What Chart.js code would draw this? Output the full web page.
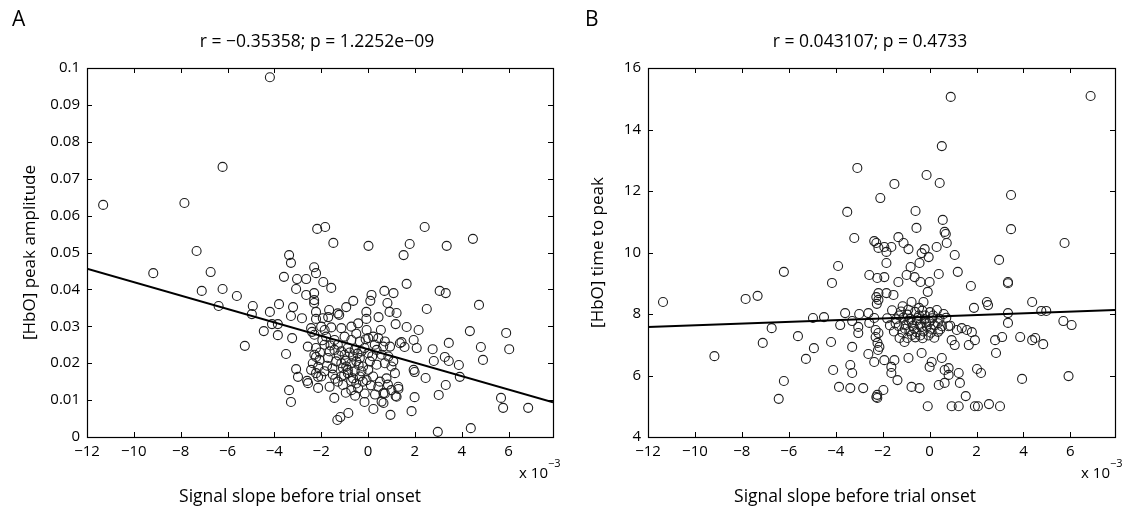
<!DOCTYPE html>
<html>
<head>
<meta charset="utf-8">
<script src="https://cdn.jsdelivr.net/npm/chart.js@4.4.1/dist/chart.umd.min.js"></script>
<style>
  body { margin: 0; background: #fff; }
  .panel { position: absolute; top: 0; height: 515px; }
  #panelA { left: 0; width: 560px; }
  #panelB { left: 560px; width: 567px; }
</style>
</head>
<body>
<div class="panel" id="panelA"><canvas id="chartA"></canvas></div>
<div class="panel" id="panelB"><canvas id="chartB"></canvas></div>
<script>
// slope values are in units of 1e-3 (axis shows "x 10^-3")
const xTicks = [-12, -10, -8, -6, -4, -2, 0, 2, 4, 6];
const yTicksA = [0, 0.01, 0.02, 0.03, 0.04, 0.05, 0.06, 0.07, 0.08, 0.09, 0.1];
const yTicksB = [4, 6, 8, 10, 12, 14, 16];

// regression lines, end points
const fitA = [[-12, 0.0456], [7.9, 0.0094]];
const fitB = [[-12, 7.58], [7.9, 8.13]];

// A: slope vs [HbO] peak amplitude
const pointsA = [
  [-4.19, 0.0975], [-11.31, 0.0629], [-7.84, 0.0634], [-6.21, 0.0732], [-2.17, 0.0564],
  [-1.83, 0.0569], [-1.48, 0.0526], [0.02, 0.0518], [1.78, 0.0523], [2.42, 0.0569],
  [3.36, 0.0518], [4.48, 0.0537], [1.52, 0.0493], [-7.32, 0.0504], [-9.17, 0.0444],
  [-6.72, 0.0447], [-7.10, 0.0396], [-6.21, 0.0401], [-6.38, 0.0355], [-5.60, 0.0382],
  [-4.92, 0.0355], [-4.96, 0.0333], [-5.26, 0.0247], [-4.45, 0.0287], [-4.19, 0.0339],
  [-3.80, 0.0360], [-4.10, 0.0306], [-3.85, 0.0306], [-3.85, 0.0276], [-3.50, 0.0225],
  [-3.37, 0.0127], [-3.29, 0.0095], [-3.07, 0.0184], [-2.99, 0.0163], [-2.60, 0.0152],
  [-2.56, 0.0146], [-3.24, 0.0268], [-3.29, 0.0328], [-3.20, 0.0352], [-2.82, 0.0322],
  [-3.59, 0.0434], [-3.37, 0.0493], [-3.29, 0.0472], [-3.03, 0.0428], [-3.07, 0.0401],
  [-2.64, 0.0428], [-2.30, 0.0460], [-2.22, 0.0444], [-2.30, 0.0390], [-2.30, 0.0363],
  [-2.22, 0.0339], [-2.22, 0.0320], [-2.39, 0.0285], [-2.22, 0.0217], [-2.13, 0.0190],
  [-2.13, 0.0163], [-2.13, 0.0133], [-1.91, 0.0420], [-1.57, 0.0404], [-2.64, 0.0385],
  [-2.30, 0.0371], [-0.63, 0.0369], [-0.93, 0.0352], [0.15, 0.0385], [0.10, 0.0369],
  [0.70, 0.0396], [1.09, 0.0390], [0.83, 0.0363], [0.92, 0.0339], [1.22, 0.0336],
  [1.65, 0.0415], [3.06, 0.0396], [3.32, 0.0390], [2.51, 0.0347], [4.74, 0.0358],
  [-1.66, 0.0344], [-1.70, 0.0325], [-1.23, 0.0331], [-0.07, 0.0339], [-0.07, 0.0320],
  [0.45, 0.0325], [1.18, 0.0306], [1.65, 0.0298], [2.16, 0.0290], [4.35, 0.0287],
  [5.90, 0.0282], [6.03, 0.0238], [4.82, 0.0244], [4.91, 0.0209], [3.45, 0.0255],
  [2.76, 0.0238], [2.81, 0.0206], [3.28, 0.0217], [3.45, 0.0206], [3.88, 0.0195],
  [3.92, 0.0163], [2.46, 0.0160], [1.95, 0.0182], [1.99, 0.0176], [1.43, 0.0257],
  [1.56, 0.0244], [1.95, 0.0263], [2.08, 0.0241], [3.32, 0.0141], [3.02, 0.0114],
  [1.99, 0.0108], [1.86, 0.0070], [0.96, 0.0060], [0.23, 0.0076], [0.66, 0.0092],
  [0.66, 0.0119], [1.18, 0.0111], [1.30, 0.0130], [-0.15, 0.0095], [-1.44, 0.0106],
  [-1.31, 0.0046], [-1.18, 0.0054], [-0.84, 0.0065], [2.98, 0.0014], [4.39, 0.0024],
  [5.68, 0.0106], [5.77, 0.0079], [6.84, 0.0079],
  // dense middle
  [-2.43, 0.0295], [-2.00, 0.0299], [-1.57, 0.0297], [-1.14, 0.0295], [-0.71, 0.0299],
  [-0.42, 0.0308], [-0.06, 0.0290], [0.22, 0.0272], [0.44, 0.0268], [0.72, 0.0259],
  [0.94, 0.0245], [-2.29, 0.0277], [-1.79, 0.0272], [-1.43, 0.0263], [-1.00, 0.0272],
  [-0.71, 0.0263], [-0.35, 0.0259], [0.01, 0.0268], [0.29, 0.0250], [0.65, 0.0245],
  [-2.57, 0.0245], [-2.22, 0.0241], [-1.86, 0.0250], [-1.43, 0.0236], [-1.14, 0.0232],
  [-0.86, 0.0241], [-0.57, 0.0236], [-0.28, 0.0232], [0.01, 0.0227], [0.37, 0.0236],
  [0.58, 0.0223], [0.87, 0.0218], [1.08, 0.0205], [1.36, 0.0254], [-2.36, 0.0200],
  [-2.07, 0.0209], [-1.71, 0.0214], [-1.36, 0.0205], [-1.14, 0.0200], [-0.93, 0.0191],
  [-0.71, 0.0200], [-0.50, 0.0205], [-0.21, 0.0191], [0.08, 0.0205], [0.37, 0.0196],
  [0.72, 0.0200], [1.00, 0.0191], [-2.22, 0.0173], [-1.86, 0.0178], [-1.50, 0.0169],
  [-1.14, 0.0164], [-0.86, 0.0173], [-0.64, 0.0159], [-0.35, 0.0164], [-0.06, 0.0154],
  [0.22, 0.0164], [0.51, 0.0150], [0.79, 0.0159], [1.15, 0.0173], [1.29, 0.0136],
  [-1.64, 0.0136], [-1.07, 0.0141], [-0.71, 0.0127], [-0.42, 0.0132], [-0.14, 0.0118],
  [0.44, 0.0136], [0.72, 0.0118], [1.00, 0.0127], [0.58, 0.0096], [1.22, 0.0109],
  [-1.29, 0.0250], [-1.00, 0.0223], [-0.64, 0.0218], [-0.35, 0.0214], [-0.86, 0.0182],
  [-0.57, 0.0178], [-1.07, 0.0187], [-0.28, 0.0178], [-1.29, 0.0150], [-0.50, 0.0145],
  [0.01, 0.0182], [-2.00, 0.0164], [-2.43, 0.0182], [-2.29, 0.0223], [-1.64, 0.0232],
  [-1.93, 0.0322], [-1.29, 0.0335],
  [-1.95, 0.0262], [-1.60, 0.0248], [-1.25, 0.0221], [-0.95, 0.0207], [-0.78, 0.0229],
  [-0.45, 0.0226], [-0.15, 0.0241], [0.18, 0.0219], [-1.75, 0.0193], [-1.52, 0.0186],
  [-1.02, 0.0168], [-0.72, 0.0152], [-0.40, 0.0195], [-0.22, 0.0150], [0.12, 0.0140],
  [-1.40, 0.0158], [-0.55, 0.0112], [-0.95, 0.0120], [0.30, 0.0115], [-1.85, 0.0290],
  [-0.50, 0.0280], [0.55, 0.0290], [-2.05, 0.0229], [-0.10, 0.0265], [0.85, 0.0142]
];

// B: slope vs [HbO] time to peak
const pointsB = [
  [-3.08, 12.75], [-3.51, 11.32], [-3.21, 10.47], [-2.10, 11.77], [-2.36, 10.37],
  [-2.27, 10.31], [-2.18, 10.15], [-11.36, 8.39], [-7.84, 8.49], [-7.33, 8.59],
  [-6.21, 9.37], [-3.90, 9.56], [-4.16, 9.01], [-2.57, 9.27], [-2.23, 9.17],
  [-2.18, 8.68], [-2.18, 8.46], [-2.25, 8.33], [-3.60, 8.03], [-3.00, 8.00],
  [-2.61, 8.03], [-4.97, 7.87], [-4.50, 7.90], [-3.81, 7.64], [-3.30, 7.77],
  [-3.04, 7.58], [-3.04, 7.38], [-6.73, 7.54], [-5.61, 7.28], [-7.11, 7.06],
  [-4.93, 6.89], [-4.20, 7.09], [-3.30, 6.93], [-9.17, 6.63], [-5.27, 6.54],
  [-2.61, 6.70], [-2.36, 6.44], [-2.30, 7.48], [-2.30, 7.25], [-2.22, 7.06],
  [-2.20, 6.83], [-4.11, 6.18], [-3.38, 6.34], [-3.30, 6.08], [-6.21, 5.82],
  [-3.86, 5.63], [-3.38, 5.59], [-2.83, 5.59], [-2.27, 5.30], [-2.23, 5.27],
  [-6.43, 5.24], [0.90, 15.06], [6.86, 15.09], [0.52, 13.46], [-0.13, 12.52],
  [0.43, 12.26], [-1.50, 12.23], [3.47, 11.87], [-0.60, 11.35], [-0.56, 10.80],
  [0.56, 11.06], [0.64, 10.67], [0.69, 10.60], [3.47, 10.76], [5.75, 10.31],
  [0.73, 10.31], [-1.93, 10.18], [-1.63, 10.18], [-1.33, 10.50], [-1.11, 10.31],
  [-0.90, 10.11], [-0.21, 10.11], [0.30, 10.18], [-1.84, 10.02], [-0.34, 9.98],
  [-0.04, 9.85], [-0.43, 9.66], [1.07, 9.92], [-1.84, 9.66], [-0.81, 9.53],
  [2.96, 9.76], [-1.93, 9.20], [-1.33, 9.04], [-0.98, 9.27], [-0.64, 9.20],
  [-0.39, 9.04], [0.00, 9.04], [0.39, 9.30], [1.20, 9.37], [1.76, 8.91],
  [3.34, 9.04], [3.34, 9.00], [-0.08, 8.72], [-2.27, 8.55], [-1.84, 8.68],
  [-1.54, 8.62], [-0.77, 8.39], [-0.26, 8.39], [1.89, 8.20], [2.44, 8.39],
  [2.49, 8.29], [4.37, 8.39], [4.76, 8.10], [4.97, 8.10], [5.70, 7.77],
  [6.05, 7.64], [3.34, 8.03], [3.34, 7.71], [3.09, 7.25], [2.79, 7.15],
  [3.86, 7.25], [4.37, 7.15], [4.50, 7.22], [4.84, 7.02], [2.83, 6.73],
  [2.02, 6.21], [2.19, 6.08], [3.94, 5.89], [5.92, 5.98], [1.24, 6.08],
  [1.29, 5.76], [1.54, 5.33], [-0.08, 5.00], [0.94, 5.00], [1.24, 5.00],
  [1.93, 5.00], [2.06, 5.00], [2.53, 5.07], [3.00, 5.00], [-1.97, 5.53],
  [-2.23, 5.37], [-1.93, 6.50], [-1.50, 6.50], [-1.37, 5.85], [-0.77, 5.63],
  [-0.43, 5.59], [0.39, 5.69], [0.64, 5.76], [0.81, 6.02], [-1.63, 6.28],
  [-1.63, 6.08], [-0.90, 6.57], [-0.34, 6.73], [0.09, 6.44], [0.00, 6.28],
  [0.52, 6.57], [0.64, 6.18], [0.81, 6.24], [0.94, 7.15], [1.07, 6.99],
  [1.67, 6.99], [1.93, 7.15], [1.80, 7.41], [1.59, 7.48], [1.37, 7.54],
  [1.16, 7.48], [-1.28, 7.22], [-1.07, 7.09], [-2.18, 7.38], [-2.14, 6.93],
  [-2.36, 7.87], [-2.57, 7.71],
  // dense middle
  [-1.60, 8.12], [-1.22, 8.08], [-0.91, 8.14], [-0.62, 8.07], [-0.31, 8.11],
  [0.02, 8.06], [0.31, 8.13], [-1.81, 7.86], [-1.42, 7.83], [-1.12, 7.88],
  [-0.83, 7.84], [-0.52, 7.87], [-0.21, 7.82], [0.11, 7.86], [0.42, 7.84],
  [0.71, 7.88], [-1.69, 7.63], [-1.31, 7.60], [-1.02, 7.64], [-0.72, 7.61],
  [-0.41, 7.65], [-0.12, 7.59], [0.21, 7.63], [0.52, 7.60], [0.88, 7.62],
  [-1.52, 7.43], [-1.16, 7.40], [-0.86, 7.44], [-0.56, 7.41], [-0.26, 7.43],
  [0.05, 7.39], [0.36, 7.42], [-0.95, 7.22], [-0.61, 7.24], [-0.30, 7.21],
  [0.20, 7.23], [-0.75, 7.72], [-0.45, 7.95], [-0.95, 7.98], [-0.15, 7.72],
  [0.60, 8.00], [0.80, 7.60],
  [-1.45, 7.70], [-1.05, 7.52], [-0.65, 7.52], [-0.35, 7.58], [0.05, 7.52],
  [0.35, 7.70], [-0.90, 7.78], [-0.55, 7.78], [-0.20, 7.95], [0.15, 7.95],
  [-1.30, 7.95], [-0.75, 7.32], [-0.40, 7.30], [0.00, 7.75], [-1.15, 8.25],
  [-0.45, 8.20], [0.45, 7.50], [-0.05, 7.30]
];

const ink = '#1e1e1e';
const fontFam = "'Open Sans', 'Noto Sans', sans-serif";

// frame, inward ticks and all the text around the axes
const decor = {
  id: 'decor',
  afterDraw(chart, args, o) {
    const { ctx, chartArea: a, scales: { x, y } } = chart;
    ctx.save();
    ctx.strokeStyle = '#000';
    ctx.lineWidth = 1.2;
    ctx.strokeRect(Math.round(a.left) + 0.5, Math.round(a.top) + 0.5,
      Math.round(a.right - a.left), Math.round(a.bottom - a.top));
    ctx.lineWidth = 1;
    ctx.beginPath();
    x.ticks.forEach(t => {
      const px = Math.round(x.getPixelForValue(t.value)) + 0.5;
      ctx.moveTo(px, a.bottom); ctx.lineTo(px, a.bottom - 5);
      ctx.moveTo(px, a.top); ctx.lineTo(px, a.top + 5);
    });
    y.ticks.forEach(t => {
      const py = Math.round(y.getPixelForValue(t.value)) + 0.5;
      ctx.moveTo(a.left, py); ctx.lineTo(a.left + 5, py);
      ctx.moveTo(a.right, py); ctx.lineTo(a.right - 5, py);
    });
    ctx.stroke();

    ctx.fillStyle = '#000';
    ctx.textBaseline = 'middle';
    ctx.font = '21px ' + fontFam;
    ctx.textAlign = 'left';
    ctx.fillText(o.letter, o.letterX, 20);

    ctx.font = '17.5px ' + fontFam;
    ctx.textAlign = 'center';
    ctx.fillText(o.title, o.titleX, 42);
    ctx.fillText(o.xlabel, o.xlabelX, 497);

    ctx.font = '17px ' + fontFam;
    ctx.save();
    ctx.translate(o.ylabelX, (a.top + a.bottom) / 2);
    ctx.rotate(-Math.PI / 2);
    ctx.fillText(o.ylabel, 0, 0);
    ctx.restore();

    // multiplier
    ctx.textAlign = 'right';
    ctx.textBaseline = 'alphabetic';
    ctx.font = '15px ' + fontFam;
    ctx.fillText('x 10', a.right - 5, 478);
    ctx.textAlign = 'left';
    ctx.font = '11px ' + fontFam;
    ctx.fillText('\u22123', a.right - 5, 467);
    ctx.restore();
  }
};

const minus = v => (v < 0 ? '\u2212' + Math.abs(v) : String(v));

function makeChart(id, points, fit, yTicks, yMin, yMax, padRight, yWidth, texts) {
  return new Chart(document.getElementById(id), {
    type: 'scatter',
    data: {
      datasets: [
        {
          data: points.map(p => ({ x: p[0], y: p[1] })),
          pointStyle: 'circle',
          pointRadius: 4.5,
          pointBorderWidth: 1.1,
          pointBorderColor: ink,
          pointBackgroundColor: 'transparent',
          order: 2
        },
        {
          type: 'line',
          data: fit.map(p => ({ x: p[0], y: p[1] })),
          borderColor: '#000',
          borderWidth: 2,
          pointRadius: 0,
          fill: false,
          order: 1
        }
      ]
    },
    options: {
      responsive: true,
      maintainAspectRatio: false,
      animation: false,
      layout: { padding: { left: 0, top: 68, right: padRight, bottom: 0 } },
      plugins: {
        legend: { display: false },
        tooltip: { enabled: false },
        decor: texts
      },
      scales: {
        x: {
          type: 'linear',
          min: -12,
          max: 7.9,
          afterBuildTicks: s => { s.ticks = xTicks.map(v => ({ value: v })); },
          afterFit: s => { s.height = 78; },
          grid: { display: false, drawTicks: false },
          border: { display: false },
          ticks: {
            padding: 6,
            color: '#000',
            font: { family: fontFam, size: 15 },
            callback: v => minus(v)
          }
        },
        y: {
          type: 'linear',
          min: yMin,
          max: yMax,
          afterBuildTicks: s => { s.ticks = yTicks.map(v => ({ value: v })); },
          afterFit: s => { s.width = yWidth; },
          grid: { display: false, drawTicks: false },
          border: { display: false },
          ticks: {
            padding: 7,
            color: '#000',
            font: { family: fontFam, size: 15 },
            callback: v => String(+v.toFixed(2))
          }
        }
      }
    },
    plugins: [decor]
  });
}

makeChart('chartA', pointsA, fitA, yTicksA, 0, 0.1, 7, 87, {
  letter: 'A', letterX: 12,
  title: 'r = \u22120.35358; p = 1.2252e\u221209', titleX: 317,
  xlabel: 'Signal slope before trial onset', xlabelX: 300,
  ylabel: '[HbO] peak amplitude', ylabelX: 30
});

makeChart('chartB', pointsB, fitB, yTicksB, 4, 16, 12, 88, {
  letter: 'B', letterX: 25,
  title: 'r = 0.043107; p = 0.4733', titleX: 310,
  xlabel: 'Signal slope before trial onset', xlabelX: 295,
  ylabel: '[HbO] time to peak', ylabelX: 38
});
</script>
</body>
</html>
